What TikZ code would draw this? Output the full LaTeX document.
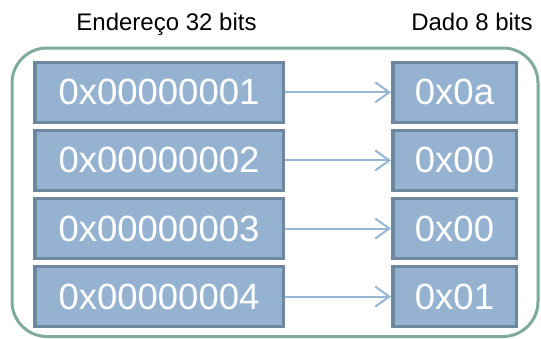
\documentclass[tikz,border=0pt]{standalone}
\usepackage{fontspec}
\setmainfont{Liberation Sans}
\usetikzlibrary{arrows.meta}
\definecolor{frame}{HTML}{7EAB9C}
\definecolor{cellfill}{HTML}{95B3D1}
\definecolor{celledge}{HTML}{6C879E}
\definecolor{link}{HTML}{95B6D4}
\tikzset{
  cell/.style={draw=celledge, fill=cellfill, line width=3.5pt, minimum height=60pt,
    inner sep=0pt, text=white, font=\fontsize{36.5}{40}\selectfont},
  addr/.style={cell, minimum width=248.5pt},
  datum/.style={cell, minimum width=123.5pt},
  heading/.style={anchor=base, inner sep=0pt, font=\fontsize{24}{28}\selectfont},
  pointer/.style={draw=link, line width=2pt, -{Straight Barb[length=14pt,width=20pt,line width=2pt]}}
}
\begin{document}
\begin{tikzpicture}[x=1pt, y=-1pt]
  \useasboundingbox (0,0) rectangle (541,338);
  % outer frame
  \draw[frame, line width=3pt, rounded corners=35pt] (12,48) rectangle (538,336.5);
  % column headings
  \node[heading] (hA) at (166.5,30.7) {Endereço 32 bits};
  \node[heading] (hD) at (472,30.7) {Dado 8 bits};
  % memory rows
  \foreach \i/\a/\d in {1/0x00000001/0x0a, 2/0x00000002/0x00, 3/0x00000003/0x00, 4/0x00000004/0x01} {
    \pgfmathsetmacro{\yc}{92.3+68.1*(\i-1)}
    \node[addr] (a\i) at (159,\yc) {\a};
    \node[datum] (d\i) at (454.5,\yc) {\d};
    \draw[pointer] (a\i.east) -- (d\i.west);
  }
\end{tikzpicture}
\end{document}
